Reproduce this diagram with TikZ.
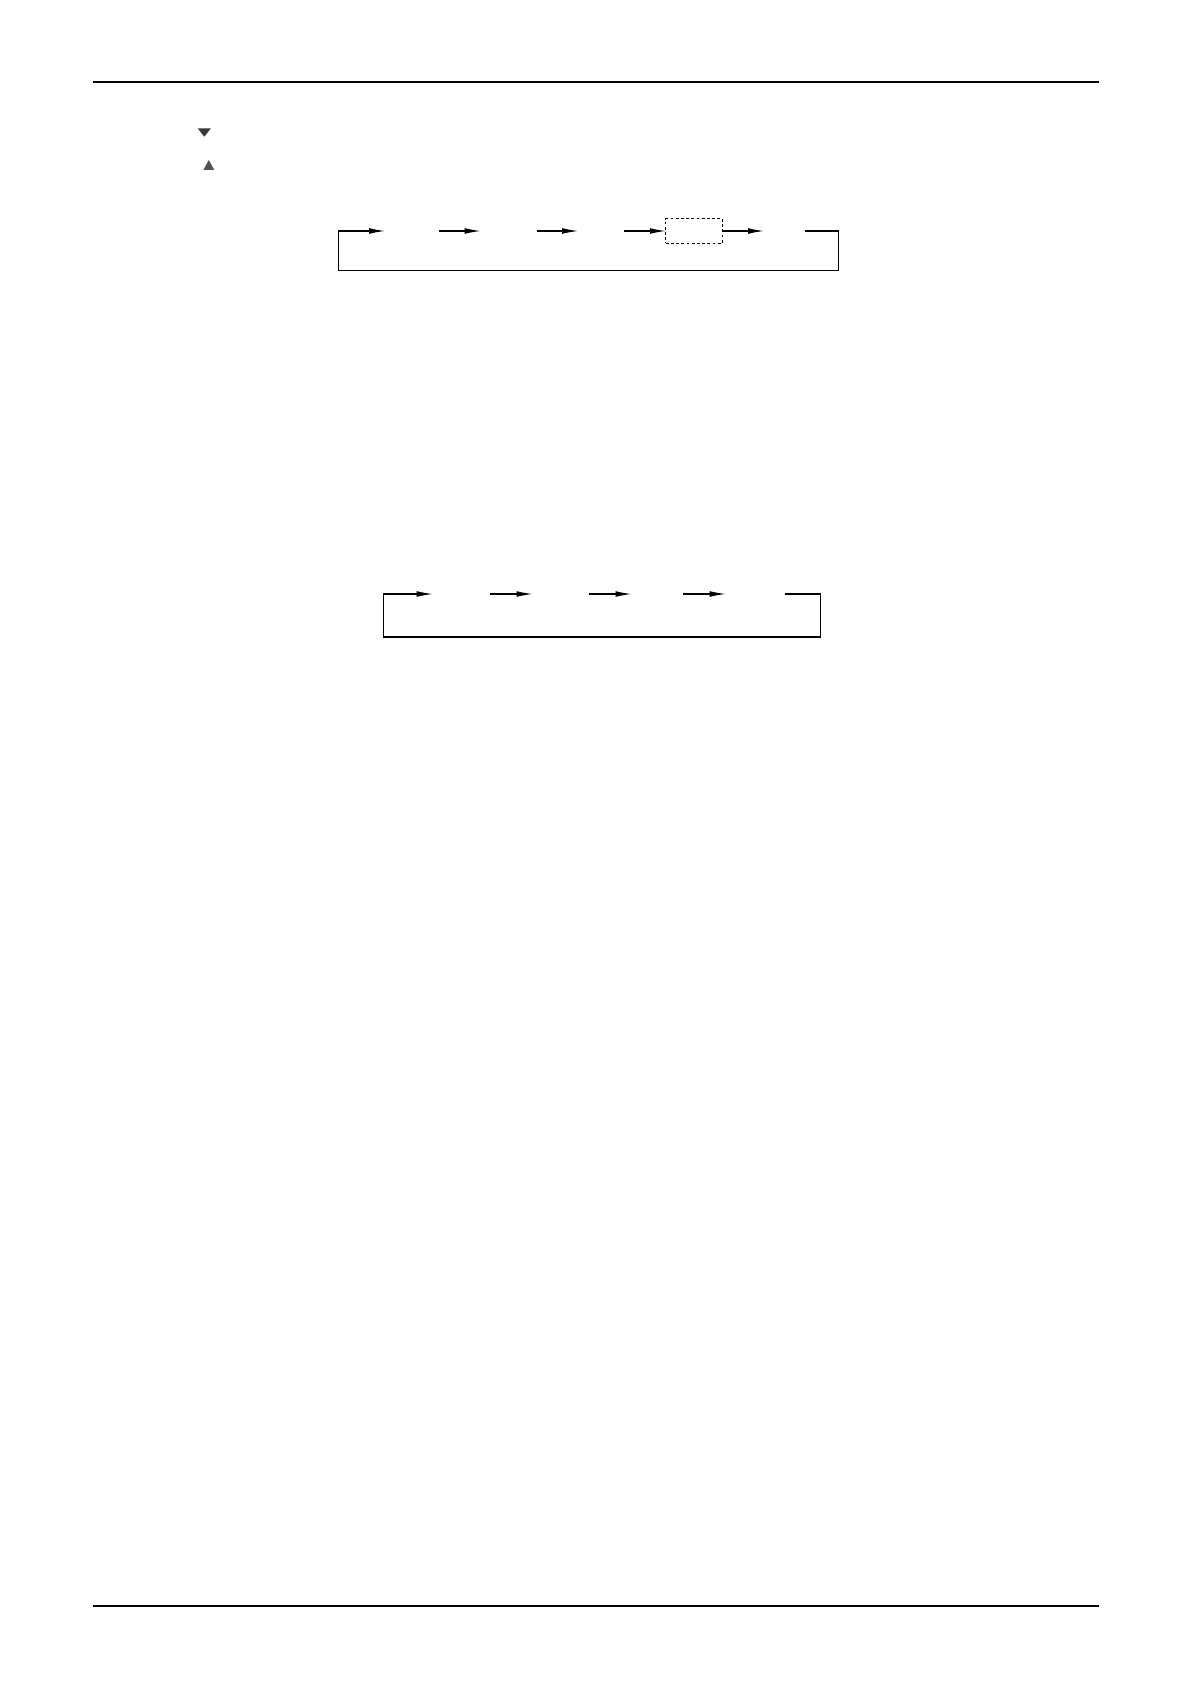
\documentclass[tikz,border=0pt]{standalone}
\usetikzlibrary{arrows.meta,positioning}

\tikzset{
  gap/.style={inner sep=0pt, outer sep=0pt, minimum height=10pt},
  slot/.style={gap, draw, dash pattern=on 1.4pt off 1.2pt, minimum height=12.2pt},
  rule/.style={line width=1pt},
  mark down/.style={fill=black!78},
  mark up/.style={fill=black!68},
}

\begin{document}
\begin{tikzpicture}[x=0.5pt, y=-0.5pt, >={Latex[length=8pt,width=2.9pt]},
    line width=0.55pt, node distance=20.8pt]
  \useasboundingbox (0,0) rectangle (1191,1685);

  % page rules
  \coordinate (tl) at (93,81.8);   \coordinate (tr) at (1099,81.8);
  \coordinate (bl) at (93,1605.5); \coordinate (br) at (1099,1605.5);
  \draw[rule] (tl) -- (tr);
  \draw[rule] (bl) -- (br);

  % key marks
  \fill[mark down] (197.7,128.3) -- (211,128.3) -- (204.3,136.7) -- cycle;
  \fill[mark up]   (203.3,170) -- (214.3,170) -- (208.8,160) -- cycle;

  % first loop
  \node [gap, minimum width=27pt]                  (A) at (412,231) {};
  \node [gap, minimum width=28pt]   [right=of A]   (B) {};
  \node [gap, minimum width=23pt]   [right=of B]   (C) {};
  \node [slot, minimum width=28.3pt] [right=of C]  (D) {};
  \node [gap, minimum width=20.3pt] [right=of D]   (E) {};
  \coordinate (ER) at (838.3,270.3);
  \coordinate (AL) at (338.3,270.3);
  \draw[->] (A) -- (B);
  \draw[->] (B) -- (C);
  \draw[->] (C) -- (D);
  \draw[->] (D) -- (E);
  \draw[->] (E.east) -| (ER) -- (AL) |- (A.west);

  % second loop
  \begin{scope}[node distance=21.3pt]
  \node [gap, minimum width=28.6pt]                (P) at (461.3,594) {};
  \node [gap, minimum width=28.2pt] [right=of P]   (Q) {};
  \node [gap, minimum width=25.8pt] [right=of Q]   (R) {};
  \node [gap, minimum width=29.5pt] [right=of R]   (S) {};
  \end{scope}
  \coordinate (SR) at (820.7,637);
  \coordinate (PL) at (383.3,637);
  \draw[->] (P) -- (Q);
  \draw[->] (Q) -- (R);
  \draw[->] (R) -- (S);
  \draw[->] (S.east) -| (SR) -- (PL) |- (P.west);
\end{tikzpicture}
\end{document}
